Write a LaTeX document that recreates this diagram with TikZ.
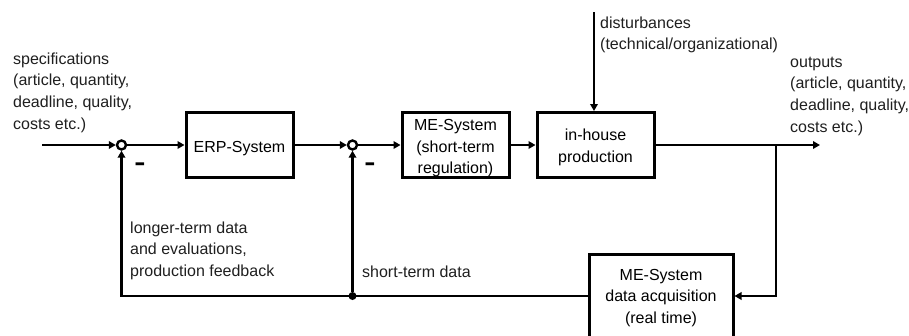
\documentclass[tikz,border=0pt]{standalone}
\usepackage{fontspec}
\setmainfont{Liberation Sans}
\usetikzlibrary{arrows.meta}
\newcommand{\txtl}[1]{\begin{tabular}[t]{@{}l@{}}#1\end{tabular}}
\newcommand{\txtc}[1]{\begin{tabular}[t]{@{}c@{}}#1\end{tabular}}
\begin{document}
\begin{tikzpicture}[x=1pt,y=-1pt,
  font=\fontsize{16}{21.7}\selectfont,
  blk/.style={draw, line width=3pt, inner sep=0pt},
  conn/.style={line width=2.8pt},
  arr/.style={conn, -{Triangle[length=7pt,width=7.5pt]}},
  sumpt/.style={circle, draw, line width=2.4pt, fill=white, minimum size=9pt, inner sep=0pt},
  lbl/.style={anchor=base west, inner sep=0pt, text=black!88},
  minus/.style={font=\fontsize{24}{24}\selectfont\bfseries, inner sep=0pt}]
\path[use as bounding box] (0,0) rectangle (909,335);
% main row
\coordinate (in) at (42,145);
\node[sumpt] (c1) at (121.5,145) {};
\node[blk, minimum width=107pt, minimum height=65pt, text height=18pt, text depth=3pt] (erp) at (239.5,145) {\txtc{ERP-System}};
\node[sumpt] (c2) at (352.5,145) {};
\node[blk, minimum width=107pt, minimum height=65pt, text height=18pt, text depth=47pt] (me) at (455.5,145) {\txtc{ME-System\\(short-term\\regulation)}};
\node[blk, minimum width=117pt, minimum height=65pt, text height=17.2pt, text depth=26.2pt] (prod) at (595.5,145) {\txtc{in-house\\production}};
\node[blk, minimum width=144pt, minimum height=86pt, text height=15.5pt, text depth=49.5pt] (acq) at (661,297) {\txtc{ME-System\\data acquisition\\(real time)}};
\coordinate (dtop) at (594,12);
\coordinate (out) at (820,145);
\coordinate (br) at (776,145);
\node[circle, fill, inner sep=0pt, minimum size=8pt] (dot) at (352.5,296) {};
% labels
\node[lbl] (spec) at (13,64) {\txtl{specifications\\(article, quantity,\\deadline, quality,\\costs etc.)}};
\node[lbl] (outp) at (790,67) {\txtl{outputs\\(article, quantity,\\deadline, quality,\\costs etc.)}};
\node[lbl] (dist) at (600,28) {\txtl{disturbances\\(technical/organizational)}};
\node[lbl] (longer) at (130,233) {\txtl{longer-term data\\and evaluations,\\production feedback}};
\node[lbl] (short) at (362,277) {short-term data};
\node[minus] (m1) at (140,166.5) {\scalebox{1.4}[1]{-}};
\node[minus] (m2) at (370,166.5) {\scalebox{1.4}[1]{-}};
% connectors
\draw[arr] (in) -- (c1);
\draw[arr] (c1) -- (erp);
\draw[arr] (erp) -- (c2);
\draw[arr] (c2) -- (me);
\draw[arr] (me) -- (prod);
\draw[arr] (dtop) -- (dtop |- prod.north);
\draw[arr] (prod) -- (out);
\draw[arr] (br) -- (br |- dot) -- (acq.east |- dot);
\draw[arr] (acq.west |- dot) -- (c1 |- dot) -- (c1);
\draw[arr] (dot) -- (c2);
\end{tikzpicture}
\end{document}
